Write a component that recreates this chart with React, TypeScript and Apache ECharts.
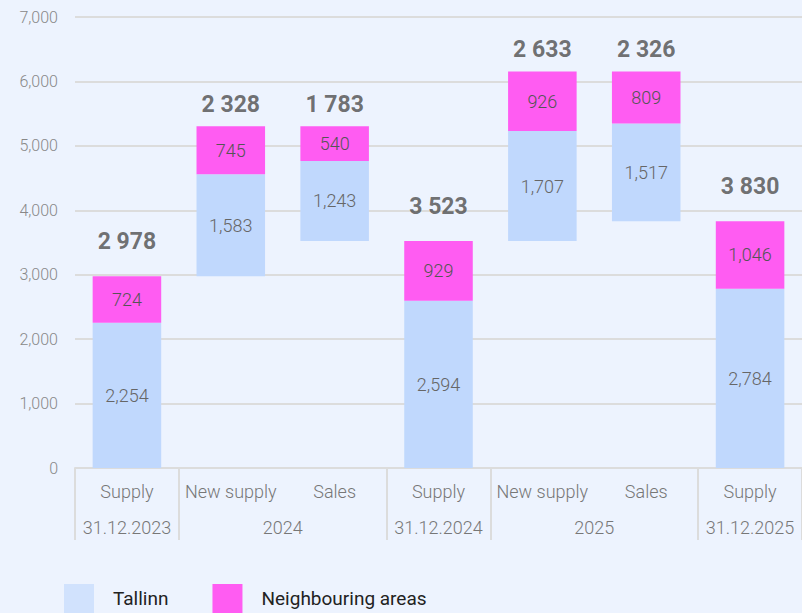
import React, { useEffect, useRef } from "react";
import * as echarts from "echarts";

const categories = ["Supply", "New supply", "Sales", "Supply", "New supply", "Sales", "Supply"];
const kinds = ["stock", "in", "out", "stock", "in", "out", "stock"];
const tallinn = [2254, 1583, 1243, 2594, 1707, 1517, 2784];
const neighbouring = [724, 745, 540, 929, 926, 809, 1046];
const groupLabels = ["", "31.12.2023", "", "", "2024", "", "", "31.12.2024", "", "", "2025", "", "", "31.12.2025", ""];
const separatorIdx = [0, 2, 6, 8, 12, 14];
const yTicks = { min: 0, max: 7000, interval: 1000 };

const BLUE = "#c0d8fd";
const PINK = "#ff5cf2";

function computeBases(): number[] {
  const bases: number[] = [];
  let level = 0;
  for (let i = 0; i < categories.length; i++) {
    const total = tallinn[i] + neighbouring[i];
    if (kinds[i] === "stock") {
      bases.push(0);
      level = total;
    } else if (kinds[i] === "in") {
      bases.push(level);
      level = level + total;
    } else {
      level = level - total;
      bases.push(level);
    }
  }
  return bases;
}

const fmtComma = (v: number) => v.toLocaleString("en-US");
const fmtSpace = (v: number) => v.toLocaleString("en-US").replace(/,/g, " ");

export default function App() {
  const ref = useRef<HTMLDivElement>(null);
  useEffect(() => {
    if (!ref.current) return;
    const chart = echarts.init(ref.current, undefined, { renderer: "svg" });
    const bases = computeBases();
    const tops = bases.map((b, i) => b + tallinn[i] + neighbouring[i]);
    const font = "Roboto";
    chart.setOption({
      animation: false,
      backgroundColor: "#edf3fe",
      textStyle: { fontFamily: font },
      grid: { left: 75, right: 0, top: 17, bottom: 145, containLabel: false, outerBoundsMode: "none" },
      legend: {
        data: [
          { name: "Tallinn", itemStyle: { color: "#d1e2fd" } },
          { name: "Neighbouring areas", itemStyle: { color: PINK } },
        ],
        left: 64,
        top: 584,
        padding: 0,
        itemWidth: 30,
        itemHeight: 29,
        itemGap: 44,
        icon: "rect",
        textStyle: { fontSize: 19, color: "#222", fontFamily: font, padding: [0, 0, 0, 14] },
      },
      xAxis: [
        {
          type: "category",
          data: categories,
          axisLine: { lineStyle: { color: "#dcdcdc", width: 2 } },
          axisTick: { show: false },
          axisLabel: { fontSize: 18, color: "#777", margin: 14, interval: 0, hideOverlap: false, fontWeight: 300, fontFamily: font },
        },
        {
          type: "category",
          data: groupLabels,
          boundaryGap: false,
          position: "bottom",
          axisLine: { show: false },
          axisTick: {
            show: true,
            length: 72,
            lineStyle: { color: "#dcdcdc", width: 2 },
            interval: (idx: number) => separatorIdx.includes(idx),
          },
          axisLabel: {
            fontSize: 18,
            color: "#777",
            margin: 50,
            interval: 0,
            hideOverlap: false,
            fontWeight: 300,
            fontFamily: font,
          },
          splitLine: { show: false },
        },
      ],
      yAxis: {
        type: "value",
        min: yTicks.min,
        max: yTicks.max,
        interval: yTicks.interval,
        axisLine: { show: false },
        axisTick: { show: false },
        axisLabel: { fontSize: 16, color: "#888", margin: 17, fontWeight: 300, formatter: (v: number) => fmtComma(v), fontFamily: font },
        splitLine: { lineStyle: { color: "#dcdcdc", width: 2 } },
      },
      series: [
        {
          name: "base",
          type: "bar",
          stack: "s",
          barWidth: "66%",
          data: bases,
          itemStyle: { color: "transparent" },
          silent: true,
        },
        {
          name: "Tallinn",
          type: "bar",
          stack: "s",
          data: tallinn,
          itemStyle: { color: BLUE },
          label: { show: true, position: "inside", fontSize: 18, fontWeight: 300, color: "#666", formatter: (p: any) => fmtComma(p.value), fontFamily: font },
        },
        {
          name: "Neighbouring areas",
          type: "bar",
          stack: "s",
          data: neighbouring,
          itemStyle: { color: PINK },
          label: { show: true, position: "inside", fontSize: 18, fontWeight: 300, color: "#555", formatter: (p: any) => fmtComma(p.value), fontFamily: font },
        },
        {
          name: "total",
          type: "scatter",
          symbolSize: 0,
          data: tops.map((t, i) => ({
            value: t,
            label: {
              show: true,
              position: "top",
              distance: kinds[i] === "stock" ? 23 : 10,
              formatter: fmtSpace(tallinn[i] + neighbouring[i]),
              fontSize: 23,
              fontWeight: "bold",
              color: "#4d4d4d",
              fontFamily: font,
            },
          })),
          silent: true,
        },
      ],
    });
    return () => chart.dispose();
  }, []);
  return <div ref={ref} style={{ width: 802, height: 613, position: "absolute", left: 0, top: 0 }} />;
}
